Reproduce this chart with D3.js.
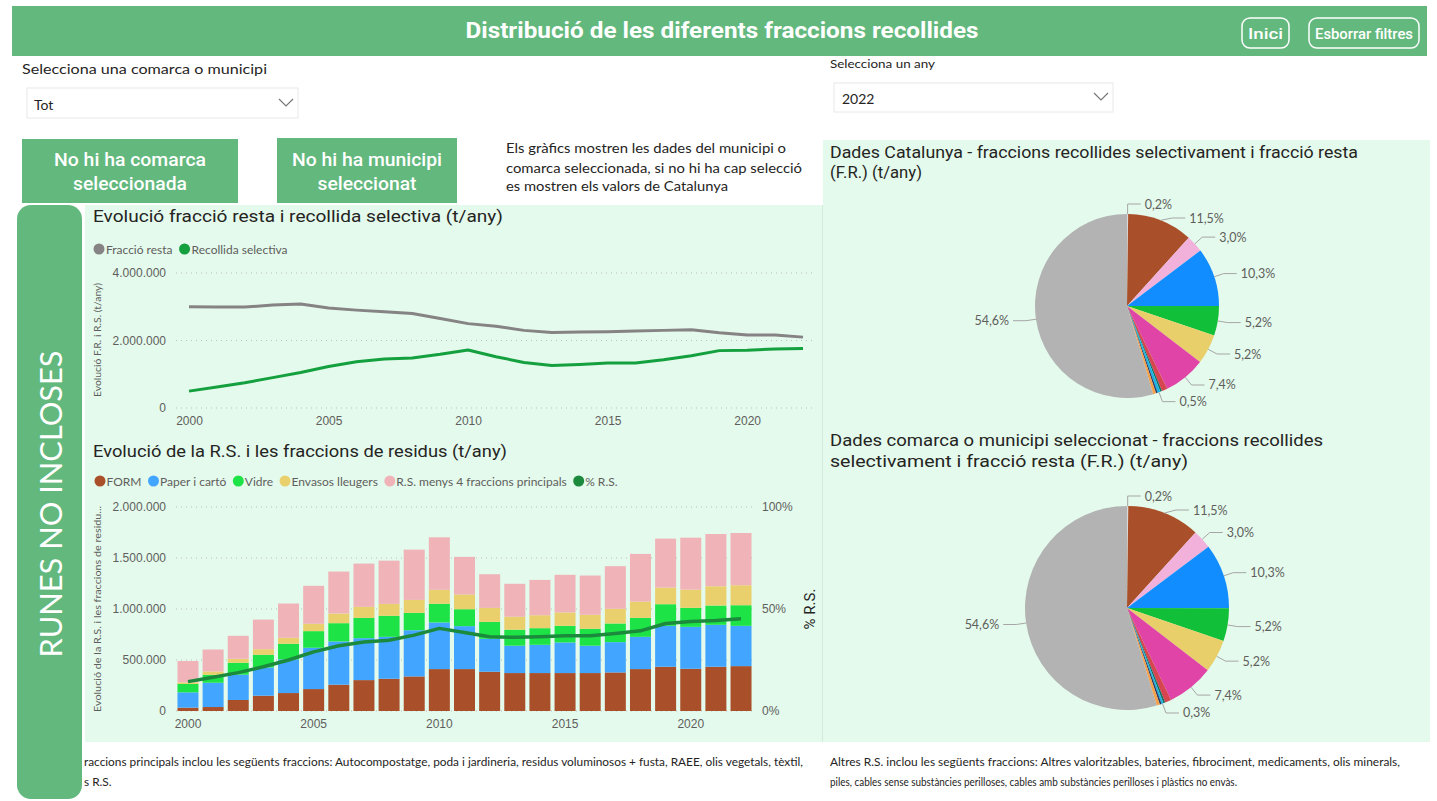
<!DOCTYPE html>
<html>
<head>
<meta charset="utf-8">
<script src="https://cdn.jsdelivr.net/npm/d3@7"></script>
<style>
body { margin: 0; background: #fff; }
svg { display: block; font-family: "Segoe UI", Lato, "Noto Sans", sans-serif; }
</style>
</head>
<body>
<svg id="dash" width="1437" height="801"></svg>
<script>
// --- data ---
var years = [2000, 2001, 2002, 2003, 2004, 2005, 2006, 2007, 2008, 2009, 2010, 2011,
             2012, 2013, 2014, 2015, 2016, 2017, 2018, 2019, 2020, 2021, 2022];
var yearTicks = [2000, 2005, 2010, 2015, 2020];

// t/any
var fraccioResta = [3000000, 2990000, 2990000, 3050000, 3080000, 2960000, 2900000, 2850000,
                    2800000, 2650000, 2500000, 2420000, 2300000, 2240000, 2250000, 2260000,
                    2280000, 2300000, 2320000, 2230000, 2160000, 2160000, 2100000];
var recollidaSelectiva = [500000, 620000, 750000, 900000, 1050000, 1230000, 1370000, 1450000,
                          1480000, 1590000, 1720000, 1520000, 1350000, 1260000, 1290000, 1330000,
                          1330000, 1430000, 1550000, 1700000, 1710000, 1750000, 1760000];

var form = [33000, 39000, 108000, 150000, 176000, 215000, 258000, 303000, 316000, 339000, 411000, 411000,
            385000, 372000, 372000, 372000, 372000, 378000, 411000, 434000, 414000, 434000, 440000];
var paper = [150000, 238000, 248000, 277000, 330000, 405000, 424000, 411000, 411000, 453000, 457000, 421000,
             323000, 268000, 277000, 300000, 268000, 297000, 316000, 401000, 411000, 411000, 395000];
var vidre = [82000, 78000, 117000, 124000, 153000, 163000, 179000, 199000, 206000, 170000, 183000, 166000,
             166000, 157000, 163000, 163000, 166000, 183000, 186000, 212000, 186000, 189000, 202000];
var envasos = [16000, 33000, 39000, 55000, 59000, 72000, 95000, 108000, 117000, 127000, 137000, 144000,
               137000, 127000, 127000, 131000, 137000, 144000, 160000, 163000, 179000, 189000, 196000];
var rsMenys4 = [209000, 215000, 225000, 290000, 336000, 372000, 411000, 424000, 424000, 493000, 515000, 369000,
                330000, 323000, 346000, 369000, 385000, 418000, 467000, 480000, 509000, 512000, 512000];
var pctRS = [14.4, 16.5, 18.8, 21.7, 25.0, 29.0, 32.0, 33.8, 34.7, 37.2, 40.5, 38.5,
             36.4, 36.1, 36.4, 36.9, 36.9, 38.0, 39.3, 42.9, 43.9, 44.4, 45.2];

var barKeys = ["FORM", "Paper i cartó", "Vidre", "Envasos lleugers", "R.S. menys 4 fraccions principals"];
var barColors = ["#A9502A", "#42A5FF", "#1EE346", "#E9D06D", "#F0B3B8"];

// pie: % of total, starting at 12 o'clock
var pieNames = ["Altres R.S.", "FORM", "Poda i jardineria", "Paper i cartó", "Vidre", "Envasos lleugers",
                "Voluminosos + fusta", "RAEE", "Olis", "Tèxtil", "Piles", "Fibrociment", "Fracció resta"];
var pieCatalunya = [0.2, 11.5, 3.0, 10.3, 5.2, 5.2, 7.4, 1.0, 0.3, 0.5, 0.3, 0.5, 54.6];
var pieComarca = [0.2, 11.5, 3.0, 10.3, 5.2, 5.2, 7.4, 1.0, 0.3, 0.3, 0.3, 0.5, 54.6];
var pieShowLabel = [true, true, true, true, true, true, true, false, false, true, false, false, true];
var pieColors = ["#D9D9D9", "#A9502A", "#F2B1DA", "#118DFF", "#12BF39", "#E8CF6A", "#E044A7",
                 "#D64550", "#1A6B5C", "#1AB5E6", "#2B3A67", "#F5A04A", "#B3B3B3"];

// --- helpers ---
var svg = d3.select("#dash");
var green = "#62B87D", mint = "#E4FAEC", ink = "#252423", grey = "#605E5C";
var titleFont = "Roboto, 'Segoe UI', sans-serif";

var locale = d3.formatLocale({decimal: ",", thousands: ".", grouping: [3], currency: ["", " €"]});
var fmtNum = locale.format(",.0f");
var fmtDec = locale.format(".1f");

function addText(parent, x, y, s, size, opts) {
    opts = opts || {};
    var t = parent.append("text")
        .attr("x", x).attr("y", y)
        .attr("font-size", size)
        .attr("fill", opts.fill || ink)
        .attr("text-anchor", opts.anchor || "start")
        .attr("font-weight", opts.weight || 400)
        .text(s);
    if (opts.len) t.attr("textLength", opts.len).attr("lengthAdjust", "spacingAndGlyphs");
    if (opts.family) t.attr("font-family", opts.family);
    return t;
}

function chevron(x, y) {
    svg.append("path")
        .attr("d", "M" + (x - 7) + "," + (y - 4) + "L" + x + "," + (y + 3) + "L" + (x + 7) + "," + (y - 4))
        .attr("fill", "none").attr("stroke", "#777").attr("stroke-width", 1.2);
}

// --- header & slicers ---
svg.append("rect").attr("x", 12).attr("y", 6).attr("width", 1415).attr("height", 50).attr("fill", green);
addText(svg, 722, 38, "Distribució de les diferents fraccions recollides", 22,
    {fill: "#fff", anchor: "middle", weight: 700, len: 513, family: titleFont});

[["Inici", 1242, 47], ["Esborrar filtres", 1309, 110]].forEach(function (b) {
    svg.append("rect").attr("x", b[1]).attr("y", 18).attr("width", b[2]).attr("height", 30)
        .attr("rx", 8).attr("fill", "none").attr("stroke", "#fff").attr("stroke-width", 1.5);
    addText(svg, b[1] + b[2] / 2, 39, b[0], 15, {fill: "#fff", anchor: "middle", weight: 500, len: b[2] - 12, family: titleFont});
});

addText(svg, 22, 74, "Selecciona una comarca o municipi", 14, {len: 245});
svg.append("rect").attr("x", 27).attr("y", 88).attr("width", 271).attr("height", 30)
    .attr("fill", "#fff").attr("stroke", "#E8E8E8");
addText(svg, 34, 110, "Tot", 14);
chevron(286, 103);

addText(svg, 830, 68, "Selecciona un any", 12, {len: 105});
svg.append("rect").attr("x", 834).attr("y", 83).attr("width", 279).attr("height", 29)
    .attr("fill", "#fff").attr("stroke", "#E8E8E8");
addText(svg, 842, 104, "2022", 14);
chevron(1101, 97);

[[22, 139, 216, "No hi ha comarca", 152, "seleccionada", 114],
 [277, 138, 180, "No hi ha municipi", 150, "seleccionat", 99]].forEach(function (b) {
    svg.append("rect").attr("x", b[0]).attr("y", b[1]).attr("width", b[2]).attr("height", 203 - b[1]).attr("fill", green);
    addText(svg, b[0] + b[2] / 2, 166, b[3], 18, {fill: "#fff", anchor: "middle", weight: 500, len: b[4], family: titleFont});
    addText(svg, b[0] + b[2] / 2, 190, b[5], 18, {fill: "#fff", anchor: "middle", weight: 500, len: b[6], family: titleFont});
});

addText(svg, 506, 153, "Els gràfics mostren les dades del municipi o", 13, {len: 280});
addText(svg, 506, 173, "comarca seleccionada, si no hi ha cap selecció", 13, {len: 296});
addText(svg, 506, 191, "es mostren els valors de Catalunya", 13, {len: 222});

// --- panels ---
svg.append("rect").attr("x", 85).attr("y", 205).attr("width", 737).attr("height", 537).attr("fill", mint);
svg.append("rect").attr("x", 823).attr("y", 140).attr("width", 607).attr("height", 602).attr("fill", mint);
svg.append("line").attr("x1", 822.5).attr("x2", 822.5).attr("y1", 205).attr("y2", 742)
    .attr("stroke", "#D3EBDB");

// --- line chart: fracció resta i recollida selectiva ---
addText(svg, 93, 222, "Evolució fracció resta i recollida selectiva (t/any)", 17, {len: 410, family: titleFont});

var lx = d3.scaleLinear().domain([2000, 2022]).range([189, 803]);
var ly = d3.scaleLinear().domain([0, 4000000]).range([408, 273]);

var lineLegend = [["Fracció resta", "#858383"], ["Recollida selectiva", "#14A03E"]];
var lgx = 99;
lineLegend.forEach(function (d) {
    svg.append("circle").attr("cx", lgx).attr("cy", 249).attr("r", 5.5).attr("fill", d[1]);
    var t = addText(svg, lgx + 7, 253.5, d[0], 12, {fill: grey});
    lgx = lgx + 7 + t.node().getComputedTextLength() + 12;
});

var lineGrid = svg.append("g");
[0, 2000000, 4000000].forEach(function (v) {
    lineGrid.append("line").attr("x1", 176).attr("x2", 815).attr("y1", ly(v)).attr("y2", ly(v))
        .attr("stroke", "#BDBDBD").attr("stroke-dasharray", "1,4");
});

svg.append("g").attr("transform", "translate(172,0)")
    .call(d3.axisLeft(ly).tickValues([0, 2000000, 4000000]).tickFormat(fmtNum).tickSize(0).tickPadding(6))
    .call(function (g) { g.select(".domain").remove(); })
    .selectAll("text").attr("font-size", 12).attr("fill", grey).attr("font-family", null);

svg.append("g").attr("transform", "translate(0,408)")
    .call(d3.axisBottom(lx).tickValues(yearTicks).tickFormat(d3.format("d")).tickSize(0).tickPadding(8))
    .call(function (g) { g.select(".domain").remove(); })
    .selectAll("text").attr("font-size", 12).attr("fill", grey).attr("font-family", null);

addText(svg, 0, 0, "Evolució F.R. i R.S. (t/any)", 8.5, {fill: grey, anchor: "middle", len: 114})
    .attr("transform", "translate(101,340) rotate(-90)");

var lineGen = d3.line()
    .x(function (d, i) { return lx(years[i]); })
    .y(function (d) { return ly(d); });

svg.append("path").datum(fraccioResta).attr("d", lineGen)
    .attr("fill", "none").attr("stroke", "#858383").attr("stroke-width", 3).attr("stroke-linejoin", "round");
svg.append("path").datum(recollidaSelectiva).attr("d", lineGen)
    .attr("fill", "none").attr("stroke", "#14A03E").attr("stroke-width", 3).attr("stroke-linejoin", "round");

// --- stacked bars + % R.S. ---
addText(svg, 93, 457, "Evolució de la R.S. i les fraccions de residus (t/any)", 17, {len: 414, family: titleFont});

var barLegend = barKeys.map(function (k, i) { return [k, barColors[i]]; }).concat([["% R.S.", "#1B8A3D"]]);
var bgx = 100;
barLegend.forEach(function (d) {
    svg.append("circle").attr("cx", bgx).attr("cy", 481).attr("r", 5.5).attr("fill", d[1]);
    var t = addText(svg, bgx + 6.5, 485.5, d[0], 12, {fill: grey});
    bgx = bgx + 6.5 + t.node().getComputedTextLength() + 12;
});

var bx = d3.scaleBand().domain(years).range([175.4, 753.6]).paddingInner(0.165).paddingOuter(0.0825);
var by = d3.scaleLinear().domain([0, 2000000]).range([711, 507]);
var py = d3.scaleLinear().domain([0, 100]).range([711, 507]);

var barGrid = svg.append("g");
by.ticks(4).forEach(function (v) {
    barGrid.append("line").attr("x1", 176).attr("x2", 752).attr("y1", by(v)).attr("y2", by(v))
        .attr("stroke", "#BDBDBD").attr("stroke-dasharray", "1,4");
});

svg.append("g").attr("transform", "translate(172,0)")
    .call(d3.axisLeft(by).tickValues([0, 500000, 1000000, 1500000, 2000000]).tickFormat(fmtNum).tickSize(0).tickPadding(6))
    .call(function (g) { g.select(".domain").remove(); })
    .selectAll("text").attr("font-size", 12).attr("fill", grey).attr("font-family", null);

svg.append("g").attr("transform", "translate(756,0)")
    .call(d3.axisRight(py).tickValues([0, 50, 100]).tickFormat(function (d) { return d + "%"; }).tickSize(0).tickPadding(6))
    .call(function (g) { g.select(".domain").remove(); })
    .selectAll("text").attr("font-size", 12).attr("fill", grey).attr("font-family", null);

svg.append("g").attr("transform", "translate(0,711)")
    .call(d3.axisBottom(bx).tickValues(yearTicks).tickSize(0).tickPadding(8))
    .call(function (g) { g.select(".domain").remove(); })
    .selectAll("text").attr("font-size", 12).attr("fill", grey).attr("font-family", null);

addText(svg, 0, 0, "Evolució de la R.S. i les fraccions de residu...", 8.5, {fill: grey, anchor: "middle", len: 206})
    .attr("transform", "translate(101,609) rotate(-90)");
addText(svg, 0, 0, "% R.S.", 15, {anchor: "middle", family: titleFont})
    .attr("transform", "translate(815,609) rotate(-90)");

var barRows = years.map(function (y, i) {
    return {year: y, "FORM": form[i], "Paper i cartó": paper[i], "Vidre": vidre[i],
            "Envasos lleugers": envasos[i], "R.S. menys 4 fraccions principals": rsMenys4[i]};
});
var stacked = d3.stack().keys(barKeys)(barRows);

svg.append("g").selectAll("g")
    .data(stacked)
    .enter().append("g")
    .attr("fill", function (d, i) { return barColors[i]; })
    .selectAll("rect")
    .data(function (d) { return d; })
    .enter().append("rect")
    .attr("x", function (d) { return bx(d.data.year); })
    .attr("y", function (d) { return by(d[1]); })
    .attr("width", bx.bandwidth())
    .attr("height", function (d) { return by(d[0]) - by(d[1]); });

var pctLine = d3.line()
    .x(function (d, i) { return bx(years[i]) + bx.bandwidth() / 2; })
    .y(function (d) { return py(d); });
svg.append("path").datum(pctRS).attr("d", pctLine)
    .attr("fill", "none").attr("stroke", "#1B8A3D").attr("stroke-width", 3.5).attr("stroke-linejoin", "round");

// --- pies ---
addText(svg, 830, 158, "Dades Catalunya - fraccions recollides selectivament i fracció resta", 17, {len: 528, family: titleFont});
addText(svg, 830, 178, "(F.R.) (t/any)", 17, {len: 92, family: titleFont});
addText(svg, 830, 446, "Dades comarca o municipi seleccionat - fraccions recollides", 17, {len: 493, family: titleFont});
addText(svg, 830, 467, "selectivament i fracció resta (F.R.) (t/any)", 17, {len: 358, family: titleFont});

function drawPie(cx, cy, r, values) {
    var g = svg.append("g").attr("transform", "translate(" + cx + "," + cy + ")");
    var arcs = d3.pie().sort(null).value(function (d) { return d; })(values);
    var arc = d3.arc().innerRadius(0).outerRadius(r);

    g.selectAll("path.slice")
        .data(arcs)
        .enter().append("path")
        .attr("class", "slice")
        .attr("d", arc)
        .attr("fill", function (d, i) { return pieColors[i]; });

    var lastY = {"1": -Infinity, "-1": -Infinity};
    arcs.forEach(function (d, i) {
        if (!pieShowLabel[i]) return;
        var a = (d.startAngle + d.endAngle) / 2;
        var side = Math.sin(a) >= 0 ? 1 : -1;
        var x0 = Math.sin(a) * r, y0 = -Math.cos(a) * r;
        var x1 = Math.sin(a) * (r + 10), y1 = -Math.cos(a) * (r + 10);
        // push a label down when it would overlap the one above it
        if (y1 < lastY[side] + 14) {
            y1 = lastY[side] + 14;
            x1 = x1 + side * 8;
        }
        lastY[side] = y1;
        var x2 = x1 + side * 13;
        g.append("polyline")
            .attr("points", [[x0, y0], [x1, y1], [x2, y1]].join(" "))
            .attr("fill", "none").attr("stroke", "#A6A6A6").attr("stroke-width", 1);
        addText(g, x2 + side * 4, y1 + 4.5, fmtDec(values[i]) + "%", 12.5,
            {fill: grey, anchor: side > 0 ? "start" : "end"});
    });
}

drawPie(1127, 306, 92, pieCatalunya);
drawPie(1127, 608, 102, pieComarca);

// --- footnotes & side banner ---
svg.append("clipPath").attr("id", "noteClip")
    .append("rect").attr("x", 84).attr("y", 745).attr("width", 738).attr("height", 56);
var notes = svg.append("g").attr("clip-path", "url(#noteClip)");

var noteLeft1 = "R.S. menys 4 fraccions principals inclou les següents fraccions: Autocompostatge, poda i jardineria, residus voluminosos + fusta, RAEE, olis vegetals, tèxtil,";
var noteLeft2 = "Altres R.S.";
var n1 = addText(notes, 0, 766, noteLeft1, 11);
var full1 = n1.node().getComputedTextLength();
var cut1 = n1.node().getStartPositionOfChar(14).x;
var s = 719 / (full1 - cut1);
n1.attr("textLength", full1 * s).attr("lengthAdjust", "spacingAndGlyphs");
n1.attr("x", 84 - n1.node().getStartPositionOfChar(14).x);

var n2 = addText(notes, 0, 786, noteLeft2, 11);
n2.attr("textLength", n2.node().getComputedTextLength() * s).attr("lengthAdjust", "spacingAndGlyphs");
n2.attr("x", 84 - n2.node().getStartPositionOfChar(5).x);

addText(svg, 830, 766, "Altres R.S. inclou les següents fraccions: Altres valoritzables, bateries, fibrociment, medicaments,  olis minerals,", 11, {len: 570});
addText(svg, 830, 786, "piles, cables sense substàncies perilloses, cables amb substàncies perilloses i plàstics no envàs.", 11, {len: 407});

svg.append("rect").attr("x", 17).attr("y", 205).attr("width", 65).attr("height", 594).attr("rx", 14).attr("fill", green);
addText(svg, 0, 0, "RUNES NO INCLOSES", 31, {fill: "#fff", anchor: "middle", len: 307})
    .attr("transform", "translate(62,504) rotate(-90)");
</script>
</body>
</html>
